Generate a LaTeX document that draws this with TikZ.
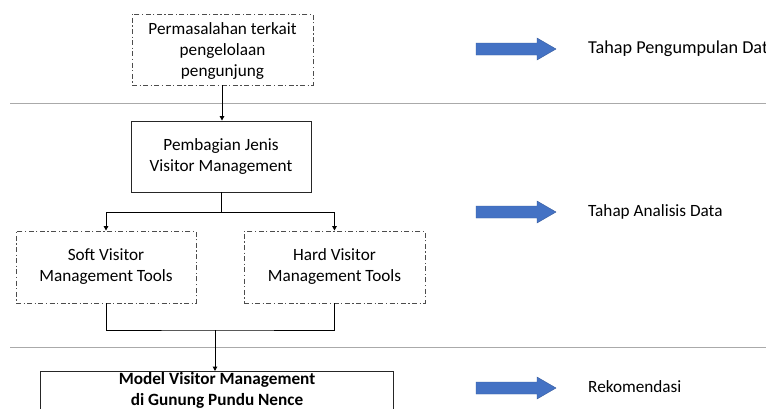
\documentclass[tikz,border=0pt]{standalone}
\usepackage{fontspec}
\setmainfont{Carlito}
\usetikzlibrary{arrows.meta}
\definecolor{arrblue}{RGB}{68,114,196}
\definecolor{sepgray}{RGB}{170,170,170}
\tikzset{
  txt/.style={font=\fontsize{17.2}{21}\selectfont, align=center},
  dashbox/.style={txt, draw=black!70, line width=0.9pt, dash pattern=on 5pt off 2.5pt on 1.2pt off 2.5pt, inner sep=0pt},
  solidbox/.style={txt, draw=black!85, line width=0.9pt, inner sep=0pt},
  conn/.style={draw=black, line width=1pt},
  arr/.style={conn, -{Triangle[length=4.5pt,width=4.5pt]}},
  sep/.style={draw=sepgray, line width=1pt},
  blue/.style={fill=arrblue, draw=arrblue!80!black, line width=0.4pt},
  lab/.style={font=\fontsize{17.2}{20}\selectfont, anchor=west, inner sep=0pt}
}
\begin{document}
\begin{tikzpicture}[x=1pt,y=-1pt]
\useasboundingbox (0,0) rectangle (766,408);
\clip (0,0) rectangle (766,408);
\fill[white] (0,0) rectangle (766,408);
% separators
\draw[sep] (10,103) -- (766,103);
\draw[sep] (10,347) -- (766,347);
% boxes
\node[dashbox, minimum width=181pt, minimum height=71pt] (p) at (222.5,49.5) {\strut Permasalahan terkait\\pengelolaan\\pengunjung};
\node[solidbox, minimum width=180pt, minimum height=71pt] (b) at (221,156.5) {Pembagian Jenis\\Visitor Management};
\node[dashbox, minimum width=180pt, minimum height=72pt] (s) at (106,267) {Soft Visitor\\Management Tools};
\node[dashbox, minimum width=181pt, minimum height=72pt] (h) at (334.5,267) {Hard Visitor\\Management Tools};
\node[txt, font=\bfseries\fontsize{17.2}{21}\selectfont, minimum width=352pt, inner ysep=0pt, anchor=north] (m) at (217,372.5) {Model Visitor Management\\di Gunung Pundu Nence};
\draw[draw=black!85, line width=0.9pt] (m.north west |- 0,371) rectangle (m.east |- 0,430);
% connectors
\coordinate (j1) at (221,212);
\coordinate (j2) at (215,330);
\draw[arr] (p.south -| 222,0) -- (b.north -| 222,0);
\draw[conn] (b.south) -- (j1);
\draw[arr] (j1) -| (s.north);
\draw[arr] (j1) -| (h.north);
\draw[conn] (s.south) |- (j2) -| (h.south);
\draw[arr] (j2) -- (j2 |- 0,371);
% blue arrows
\foreach \yy/\nm in {49/a1,212/a2,388/a3}{
  \draw[blue] (476,\yy-6) -- (537,\yy-6) -- (537,\yy-11) -- (556,\yy) -- (537,\yy+11) -- (537,\yy+6) -- (476,\yy+6) -- cycle;
}
\node[lab, font=\fontsize{18.2}{20}\selectfont] (l1) at (588,49) {Tahap Pengumpulan Data};
\node[lab] (l2) at (588,212) {Tahap Analisis Data};
\node[lab] (l3) at (588,387) {Rekomendasi};
\end{tikzpicture}
\end{document}
